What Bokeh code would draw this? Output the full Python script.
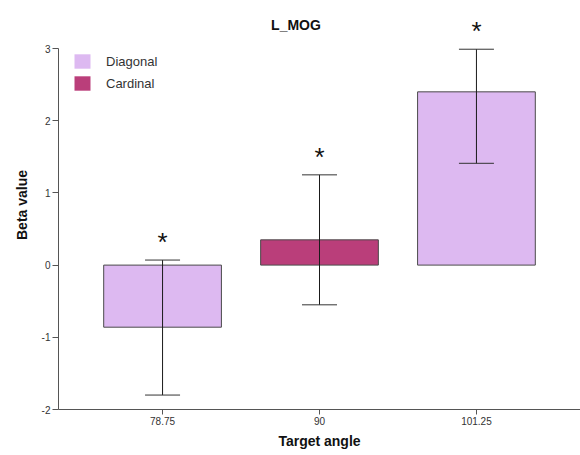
from bokeh.plotting import figure
from bokeh.models import (ColumnDataSource, FactorRange, Range1d, Whisker, TeeHead,
                          FixedTicker, Legend, LegendItem, Label)
from bokeh.embed import file_html
from bokeh.resources import INLINE

# ---- data ----
angles = ["78.75", "90", "101.25"]
groups = ["Diagonal", "Cardinal", "Diagonal"]
beta = [-0.86, 0.35, 2.40]
err_low = [-1.80, -0.55, 1.41]
err_high = [0.07, 1.25, 2.99]
significance = ["*", "*", "*"]
y_ticks = [-2, -1, 0, 1, 2, 3]
legend_groups = ["Diagonal", "Cardinal"]
group_colors = {"Diagonal": "#DDB9F1", "Cardinal": "#BA3E7A"}

FONT = "Liberation Sans"

src = ColumnDataSource(dict(
    angle=angles, group=groups, beta=beta, low=err_low, high=err_high,
    sig=significance, color=[group_colors[g] for g in groups],
))

p = figure(
    width=580, height=455,
    x_range=FactorRange(factors=angles, range_padding=0.163, range_padding_units="absolute"),
    y_range=Range1d(-2, 3.665),
    output_backend="svg", toolbar_location=None,
    min_border_left=58, min_border_right=0, min_border_top=0, min_border_bottom=46,
    outline_line_color=None,
)
p.xgrid.visible = False
p.ygrid.visible = False

bars = p.vbar(x="angle", top="beta", bottom=0, width=0.75, source=src,
              fill_color="color", line_color="#4a4a4a", line_width=1)

whisk = Whisker(base="angle", lower="low", upper="high", source=src,
                line_color="#1a1a1a", line_width=1, level="overlay",
                upper_head=TeeHead(size=35, line_color="#333333", line_width=1),
                lower_head=TeeHead(size=35, line_color="#333333", line_width=1))
p.add_layout(whisk)

p.text(x="angle", y="high", text="sig", source=src, text_align="center",
       text_baseline="alphabetic", y_offset=-18, text_font_size="26px",
       text_font={"value": FONT}, text_color="#111111")

# legend swatches (zero-height bars, no border) so the key has no outline
leg_renderers = []
for g in legend_groups:
    r = p.vbar(x=[angles[1]], top=[0], bottom=[0], width=0.0,
               fill_color=group_colors[g], line_alpha=0)
    leg_renderers.append(r)
legend = Legend(
    items=[LegendItem(label=g, renderers=[r]) for g, r in zip(legend_groups, leg_renderers)],
    location=(14, 317), orientation="vertical",
    glyph_width=20, glyph_height=18, label_height=18, label_standoff=14,
    spacing=4, padding=0, margin=0,
    border_line_alpha=0, background_fill_alpha=0,
    label_text_font=FONT, label_text_font_size="13px", label_text_color="#333333",
)
p.add_layout(legend)

title = Label(x=237.5, y=385, x_units="screen", y_units="screen", text="L_MOG",
              text_align="center", text_baseline="alphabetic",
              text_font=FONT, text_font_style="bold", text_font_size="14px",
              text_color="#111111")
p.add_layout(title)

# axes
for ax in (p.xaxis[0], p.yaxis[0]):
    ax.axis_line_color = "#555555"
    ax.major_tick_line_color = "#555555"
    ax.minor_tick_line_color = None
    ax.major_tick_in = 0
    ax.major_label_text_font = FONT
    ax.major_label_text_font_size = "10px"
    ax.major_label_text_color = "#333333"
    ax.axis_label_text_font = FONT
    ax.axis_label_text_font_style = "bold"
    ax.axis_label_text_font_size = "14px"
    ax.axis_label_text_color = "#111111"

p.yaxis.ticker = FixedTicker(ticks=y_ticks)
p.yaxis.major_label_overrides = {t: str(t) for t in y_ticks}
p.yaxis.bounds = (-2, 3)
p.yaxis.major_tick_out = 6
p.yaxis.major_label_standoff = 2
p.yaxis.axis_label = "Beta value"
p.yaxis.axis_label_standoff = 9

p.xaxis.major_tick_out = 5
p.xaxis.major_label_standoff = 2
p.xaxis.axis_label = "Target angle"
p.xaxis.axis_label_standoff = 5

open("out.html", "w").write(file_html(p, INLINE))
